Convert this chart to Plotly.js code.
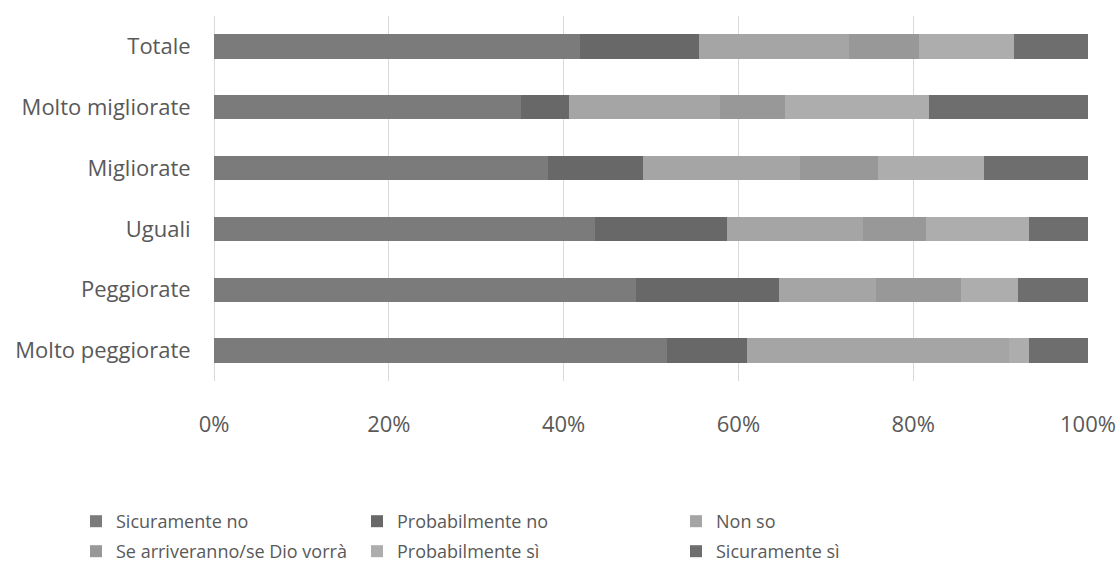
<!DOCTYPE html>
<html>
<head>
<meta charset="utf-8">
<script src="https://cdn.plot.ly/plotly-3.0.1.min.js"></script>
<style>
  html, body { margin: 0; padding: 0; background: #ffffff; }
  #chart { width: 1120px; height: 581px; }
</style>
</head>
<body>
<div id="chart"></div>
<script>
// Categories, top to bottom
const categories = ['Totale', 'Molto migliorate', 'Migliorate', 'Uguali', 'Peggiorate', 'Molto peggiorate'];

// Answer shares (%) per category
const sicuramenteNo  = [41.9, 35.1, 38.2, 43.6, 48.3, 51.8];
const probabilmenteNo = [13.6, 5.5, 10.9, 15.1, 16.4, 9.2];
const nonSo          = [17.2, 17.3, 17.9, 15.5, 11.1, 30.0];
const seArriveranno  = [8.0, 7.4, 9.0, 7.3, 9.7, 0.0];
const probabilmenteSi = [10.8, 16.5, 12.1, 11.8, 6.5, 2.3];
const sicuramenteSi  = [8.5, 18.2, 11.9, 6.7, 8.0, 6.7];

const seriesNames = ['Sicuramente no', 'Probabilmente no', 'Non so',
                     'Se arriveranno/se Dio vorrà', 'Probabilmente sì', 'Sicuramente sì'];
const seriesValues = [sicuramenteNo, probabilmenteNo, nonSo, seArriveranno, probabilmenteSi, sicuramenteSi];
const seriesColors = ['#7b7b7b', '#686868', '#a5a5a5', '#989898', '#adadad', '#6e6e6e'];

const tickValues = [0, 20, 40, 60, 80, 100];
const tickLabels = ['0%', '20%', '40%', '60%', '80%', '100%'];

// Plot area in pixels
const W = 1120, H = 581;
const plotLeft = 214, plotRight = 1088, plotTop = 16, plotBottom = 381;

// Legend grid: three columns, two rows (pixel anchors of each entry, container-relative)
const legendCols = [76, 357, 676];
const legendRows = [503, 533];
const legendNames = ['legend', 'legend2', 'legend3', 'legend4', 'legend5', 'legend6'];

const traces = seriesNames.map((name, i) => ({
  type: 'bar',
  orientation: 'h',
  name: name,
  y: categories,
  x: seriesValues[i],
  width: 0.4,
  marker: { color: seriesColors[i], line: { width: 0 } },
  legend: legendNames[i],
  hoverinfo: 'name+x'
}));

const textFamily = '"Open Sans", "Noto Sans", sans-serif';
const legendFont = { family: textFamily, size: 18, color: '#595959' };

const layout = {
  width: W,
  height: H,
  paper_bgcolor: '#ffffff',
  plot_bgcolor: '#ffffff',
  barmode: 'stack',
  bargap: 0.6,
  margin: { l: plotLeft, r: W - plotRight, t: plotTop, b: H - plotBottom, pad: 0, autoexpand: false },
  xaxis: {
    range: [0, 100],
    tickvals: tickValues,
    ticktext: tickLabels,
    showgrid: true,
    gridcolor: '#d9d9d9',
    gridwidth: 1,
    zeroline: true,
    zerolinecolor: '#d9d9d9',
    zerolinewidth: 1,
    showline: false,
    ticks: 'outside',
    ticklen: 24,
    tickcolor: 'rgba(0,0,0,0)',
    tickfont: { family: textFamily, size: 22, color: '#595959' },
    fixedrange: true
  },
  yaxis: {
    type: 'category',
    autorange: 'reversed',
    showgrid: false,
    zeroline: false,
    showline: false,
    ticks: 'outside',
    ticklen: 18,
    tickcolor: 'rgba(0,0,0,0)',
    tickfont: { family: textFamily, size: 22, color: '#595959' },
    fixedrange: true
  },
  showlegend: true
};

// One small legend per entry so each sits in its own grid cell
legendNames.forEach((ln, i) => {
  const col = legendCols[i % 3];
  const row = legendRows[Math.floor(i / 3)];
  layout[ln] = {
    xref: 'container',
    yref: 'container',
    x: col / W,
    y: 1 - row / H,
    xanchor: 'left',
    yanchor: 'top',
    orientation: 'h',
    bgcolor: 'rgba(0,0,0,0)',
    borderwidth: 0,
    font: legendFont
  };
});

Plotly.newPlot('chart', traces, layout, { displayModeBar: false, staticPlot: true });
</script>
</body>
</html>
